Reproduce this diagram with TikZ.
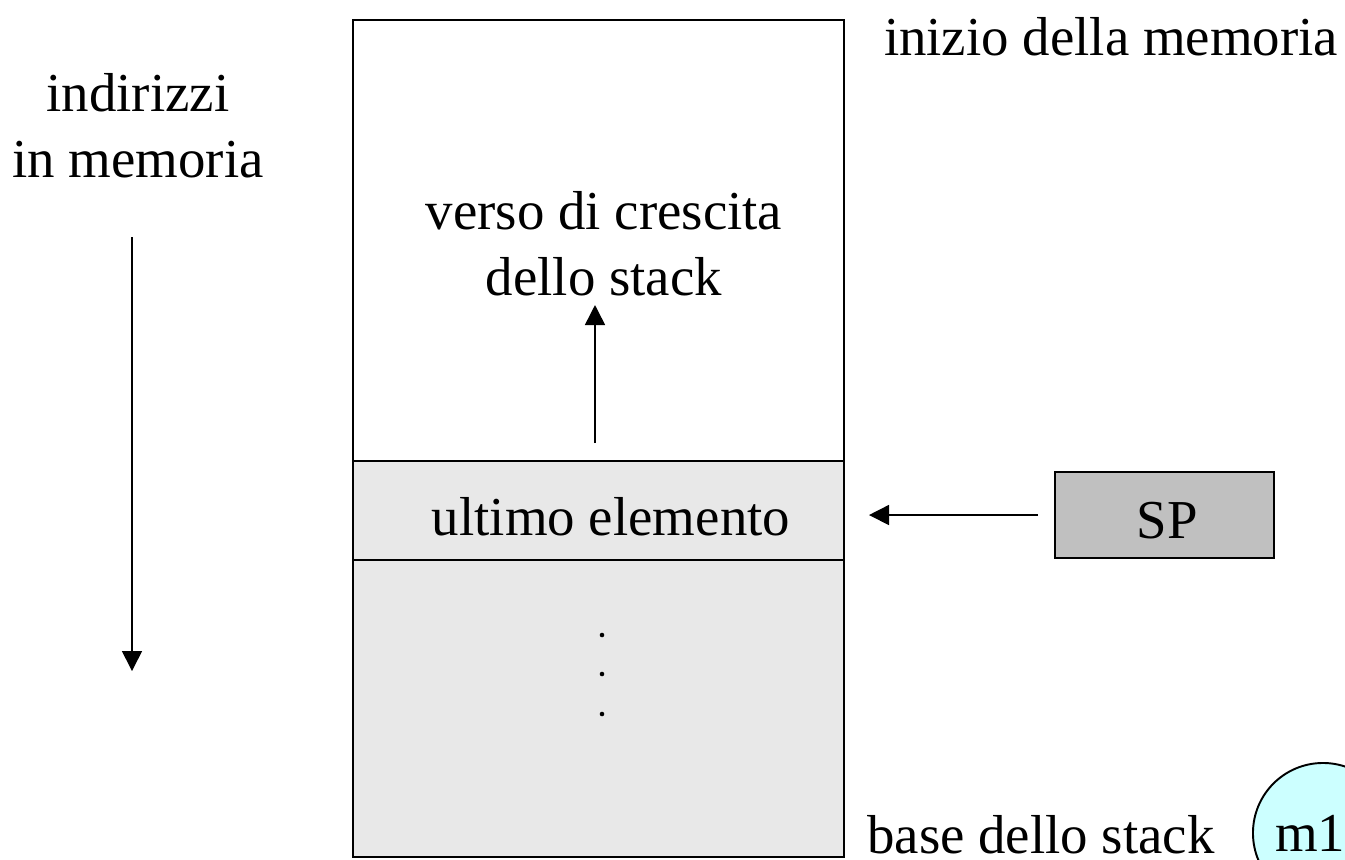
\documentclass[tikz,border=0pt]{standalone}
\usepackage{fontspec}
\setmainfont{Liberation Serif}
\usetikzlibrary{arrows.meta}
\definecolor{cellgray}{HTML}{E8E8E8}
\definecolor{spgray}{HTML}{C0C0C0}
\definecolor{notecyan}{HTML}{CCFFFF}
\begin{document}
\begin{tikzpicture}[x=0.01cm, y=-0.01cm, font=\fontsize{15.6pt}{18.5pt}\selectfont,
  cell/.style={draw, line width=0.55pt, inner sep=0pt, outer sep=0pt, minimum width=4.91cm},
  txt/.style={inner sep=0pt, align=center, anchor=base},
  dotmark/.style={circle, fill, inner sep=0pt, minimum size=1.3pt},
  arr/.style={line width=0.45pt, -{Triangle[length=0.2cm, width=0.2cm]}}]
\useasboundingbox (0,0) rectangle (1345,859);
\clip (0,0) rectangle (1345,859);

\node[cell, minimum height=4.41cm] (top) at (598.5,240.5) {};
\node[cell, fill=cellgray, minimum height=0.99cm] (last) at (598.5,510.5) {};
\node[cell, fill=cellgray, minimum height=2.97cm] (base) at (598.5,708.5) {};
\draw[line width=0.8pt] (last.north west) -- (last.north east);

\node[txt] (lasttxt) at (611,535) {ultimo elemento};
\node[txt] (grow) at (604,295) {verso di crescita\\dello stack};
\node[txt] (addr) at (138,177) {indirizzi\\in memoria};
\node[txt] (memstart) at (1111,55) {inizio della memoria};
\node[txt] (stackbase) at (1041,853) {base dello stack};

\node[draw, line width=0.55pt, fill=spgray, minimum width=2.19cm, minimum height=0.86cm] (sp) at (1164.5,515) {};
\node[txt] (sptxt) at (1167,538) {SP};
\node[draw, circle, line width=0.55pt, fill=notecyan, minimum size=1.4cm, inner sep=0pt] (note) at (1323,833) {m11};

\node[dotmark] (dot1) at (602,635) {};
\node[dotmark] (dot2) at (602,674) {};
\node[dotmark] (dot3) at (602,714) {};

\coordinate (g0) at (595,443);
\coordinate (g1) at (595,305);
\coordinate (d0) at (132,237);
\coordinate (d1) at (132,671);
\coordinate (s0) at (1038,515);
\coordinate (s1) at (869,515);

\draw[arr] (g0) -- (g1);
\draw[arr] (d0) -- (d1);
\draw[arr] (s0) -- (s1);
\end{tikzpicture}
\end{document}
